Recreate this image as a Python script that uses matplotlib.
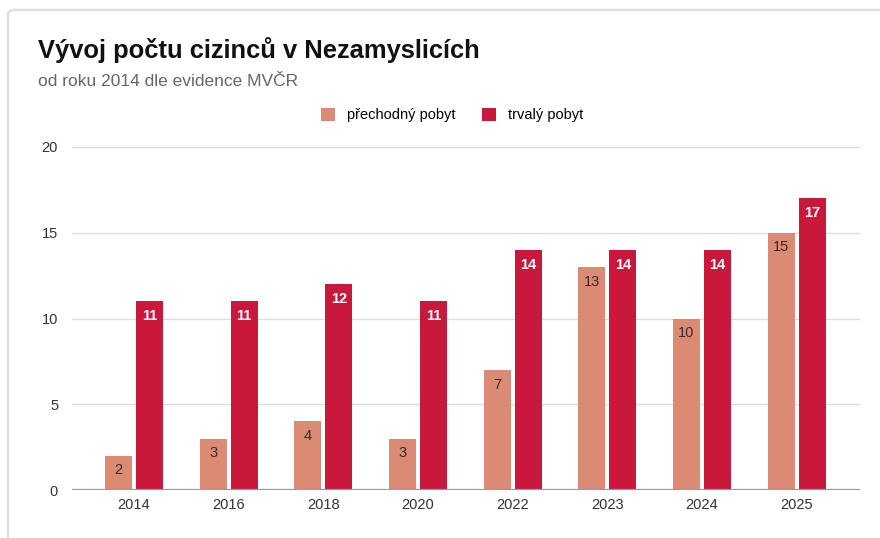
import numpy as np
import matplotlib.pyplot as plt
from matplotlib.patches import FancyBboxPatch

# data
years = ["2014", "2016", "2018", "2020", "2022", "2023", "2024", "2025"]
prechodny = [2, 3, 4, 3, 7, 13, 10, 15]
trvaly = [11, 11, 12, 11, 14, 14, 14, 17]

plt.rcParams['font.family'] = ['Liberation Sans', 'DejaVu Sans']

c_pre = "#DB8B74"
c_trv = "#C8193C"

fig = plt.figure(figsize=(8.8, 5.38), dpi=100)
W, H = 880, 538

# karta s jemnym okrajem
card = FancyBboxPatch((8 / W, -0.05), 1.2, (H - 10) / H + 0.05,
                      boxstyle="round,pad=0,rounding_size=0.008",
                      transform=fig.transFigure, facecolor="white",
                      edgecolor="#dedede", linewidth=1.8, zorder=-5)
fig.patches.append(card)

ax = fig.add_axes([72 / W, (H - 490) / H, (860 - 72) / W, (490 - 147) / H])
ax.set_facecolor("none")
ax.set_zorder(3)

x = np.arange(len(years))
w = 0.285
off = 0.164

b1 = ax.bar(x - off, prechodny, w, color=c_pre, label="přechodný pobyt", zorder=3)
b2 = ax.bar(x + off, trvaly, w, color=c_trv, label="trvalý pobyt", zorder=3)

for rect, v in zip(b1, prechodny):
    ax.text(rect.get_x() + rect.get_width() / 2, v - 0.45, str(v),
            ha="center", va="top", fontsize=10.5, color="#3a2a24", zorder=4)
for rect, v in zip(b2, trvaly):
    ax.text(rect.get_x() + rect.get_width() / 2, v - 0.45, str(v),
            ha="center", va="top", fontsize=10.5, color="white",
            fontweight="bold", zorder=4)

ax.set_ylim(0, 20)
ax.set_yticks([0, 5, 10, 15, 20])
ax.set_xlim(-0.655, 7.67)
ax.set_xticks(x)
ax.set_xticklabels(years)
ax.grid(axis="y", color="#dddddd", linewidth=1, zorder=0)
ax.axhline(0, color="#999999", linewidth=1.6, zorder=5)
for s in ax.spines.values():
    s.set_visible(False)
ax.tick_params(axis="both", length=0, labelsize=10.5, colors="#333333")
ax.tick_params(axis="y", pad=10)
ax.tick_params(axis="x", pad=6)

fig.text(38 / W, 1 - 50 / H, "Vývoj počtu cizinců v Nezamyslicích",
         fontsize=18.4, fontweight="bold", color="#111111", va="center")
fig.text(38 / W, 1 - 81 / H, "od roku 2014 dle evidence MVČR",
         fontsize=12.5, color="#666666", va="center")

fig.legend(loc="center", bbox_to_anchor=(452 / W, 1 - 115 / H), ncol=2,
           frameon=False, fontsize=10.5, handlelength=1.0, handleheight=1.0,
           columnspacing=1.8, handletextpad=0.8)

fig.savefig("out.png", dpi=100)
